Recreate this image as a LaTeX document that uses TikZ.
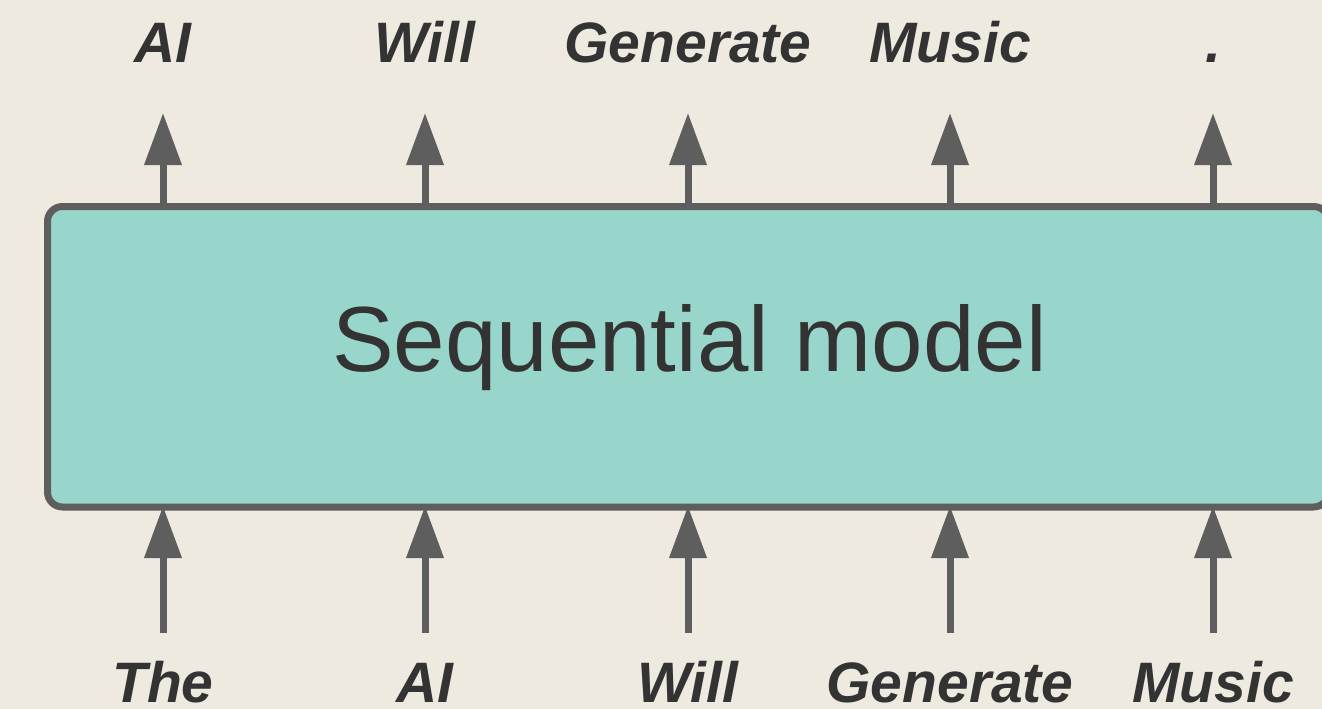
\documentclass[tikz,border=0pt]{standalone}
\usepackage{fontspec}
\setmainfont{Liberation Sans}
\usetikzlibrary{arrows.meta}
\definecolor{bgcol}{HTML}{EFEAE0}
\definecolor{boxfill}{HTML}{98D5CB}
\definecolor{edgecol}{HTML}{5E5E5E}
\definecolor{inkcol}{HTML}{333333}
\tikzset{
  modelbox/.style={draw=edgecol, fill=boxfill, line width=7pt, rounded corners=15pt,
    inner sep=0pt, minimum width=1281pt, minimum height=300.5pt},
  title/.style={anchor=base, inner sep=0pt, text=inkcol, font=\fontsize{92.5}{100}\selectfont},
  word/.style={anchor=base, inner sep=0pt, text=inkcol, font=\fontsize{57}{62}\selectfont\bfseries\itshape},
  flow/.style={draw=edgecol, line width=7pt, -{Triangle[length=52pt,width=36pt]}}
}
\begin{document}
\begin{tikzpicture}[x=1pt,y=-1pt]
  % canvas
  \fill[bgcol] (0,0) rectangle (1322,709);
  \useasboundingbox (0,0) rectangle (1322,709);
  \clip (0,0) rectangle (1322,709);

  % the model block (runs off the right edge)
  \node[modelbox] (model) at (688,356.75) {};
  \node[title] (name) at (689.5,371) {Sequential model};

  % output tokens
  \node[word] (out1) at (163,63) {AI};
  \node[word] (out2) at (425,63) {Will};
  \node[word] (out3) at (688,63) {Generate};
  \node[word] (out4) at (950,63) {Music};
  \node[word] (out5) at (1213,63) {.};

  % input tokens
  \node[word] (in1) at (163,702) {The};
  \node[word] (in2) at (425,702) {AI};
  \node[word] (in3) at (688,702) {Will};
  \node[word] (in4) at (950,702) {Generate};
  \node[word] (in5) at (1213,702) {Music};

  % arrow tips above the block and arrow tails below it
  \foreach \i/\x in {1/163,2/425,3/688,4/950,5/1213}{
    \coordinate (t\i) at (\x,113);
    \coordinate (b\i) at (\x,633);
  }

  % outputs leave the block
  \foreach \i in {1,...,5}{
    \draw[flow] (model.north -| t\i) -- (t\i);
  }
  % inputs enter the block
  \foreach \i in {1,...,5}{
    \draw[flow, shorten >=-4.5pt] (b\i) -- (model.south -| b\i);
  }
\end{tikzpicture}
\end{document}
